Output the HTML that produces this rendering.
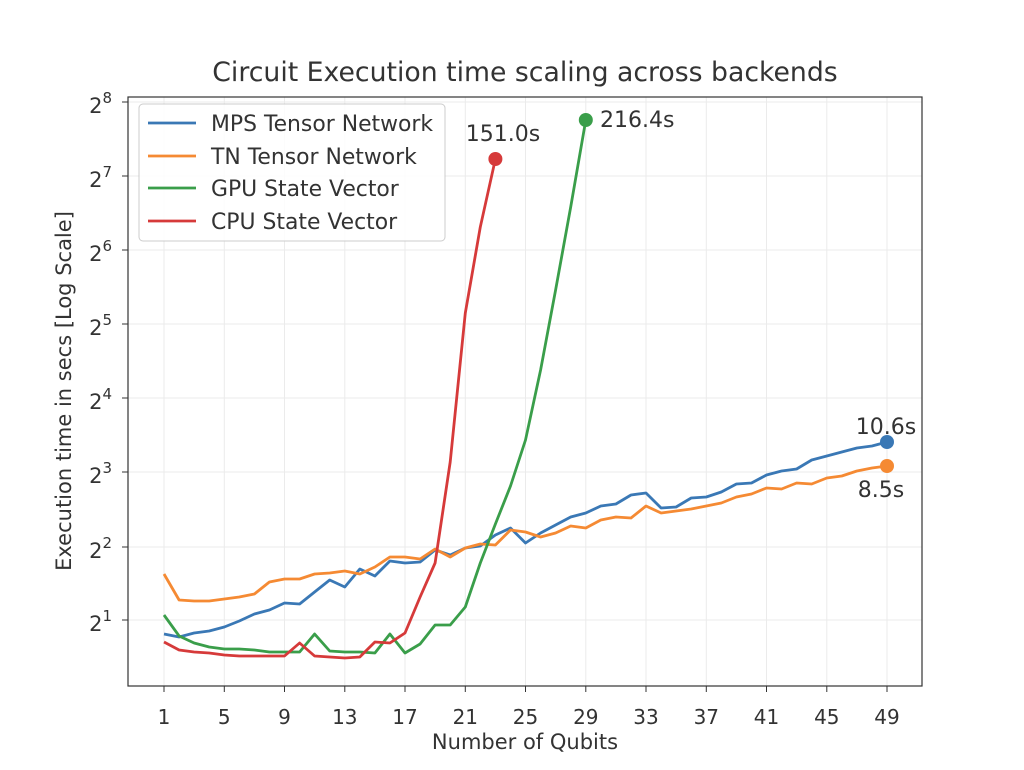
<!DOCTYPE html>
<html><head><meta charset="utf-8"><style>body{margin:0;background:#fff}svg{display:block}text{font-family:"DejaVu Sans","Liberation Sans",sans-serif;fill:#333}</style></head>
<body>
<svg width="1024" height="770" viewBox="0 0 1024 770" xmlns="http://www.w3.org/2000/svg">
<rect width="1024" height="770" fill="#fff"/>
<g stroke="#ebebeb" stroke-width="1">
<line x1="128" x2="922" y1="102" y2="102"/><line x1="128" x2="922" y1="176" y2="176"/><line x1="128" x2="922" y1="250" y2="250"/><line x1="128" x2="922" y1="324" y2="324"/><line x1="128" x2="922" y1="398" y2="398"/><line x1="128" x2="922" y1="472" y2="472"/><line x1="128" x2="922" y1="547" y2="547"/><line x1="128" x2="922" y1="620" y2="620"/>
<line y1="97" y2="686" x1="164" x2="164"/><line y1="97" y2="686" x1="224.3" x2="224.3"/><line y1="97" y2="686" x1="284.5" x2="284.5"/><line y1="97" y2="686" x1="344.8" x2="344.8"/><line y1="97" y2="686" x1="405" x2="405"/><line y1="97" y2="686" x1="465.3" x2="465.3"/><line y1="97" y2="686" x1="525.5" x2="525.5"/><line y1="97" y2="686" x1="585.8" x2="585.8"/><line y1="97" y2="686" x1="646" x2="646"/><line y1="97" y2="686" x1="706.3" x2="706.3"/><line y1="97" y2="686" x1="766.5" x2="766.5"/><line y1="97" y2="686" x1="826.8" x2="826.8"/><line y1="97" y2="686" x1="887" x2="887"/>
</g>
<g fill="none" stroke-width="2.8" stroke-linejoin="round">
<polyline stroke="#3a78b5" points="164,634 179.1,637 194.1,633 209.2,631 224.3,627 239.3,621 254.4,614 269.4,610 284.5,603 299.6,604 314.6,592 329.7,580 344.8,587 359.8,569 374.9,576 389.9,561 405,563 420.1,562 435.1,550 450.2,555 465.3,548 480.3,546 495.4,535 510.5,528 525.5,543 540.6,533 555.6,525 570.7,517 585.8,513 600.8,506 615.9,504 631,495 646,493 661.1,508 676.1,507 691.2,498 706.3,497 721.3,492 736.4,484 751.5,483 766.5,475 781.6,471 796.6,469 811.7,460 826.8,456 841.8,452 856.9,448 872,446 887,442"/>
<polyline stroke="#f58a33" points="164,574 179.1,600 194.1,601 209.2,601 224.3,599 239.3,597 254.4,594 269.4,582 284.5,579 299.6,579 314.6,574 329.7,573 344.8,571 359.8,574 374.9,567 389.9,557 405,557 420.1,559 435.1,549 450.2,557 465.3,548 480.3,544 495.4,545 510.5,530 525.5,532 540.6,537 555.6,533 570.7,526 585.8,528 600.8,520 615.9,517 631,518 646,506 661.1,513 676.1,511 691.2,509 706.3,506 721.3,503 736.4,497 751.5,494 766.5,488 781.6,489 796.6,483 811.7,484 826.8,478 841.8,476 856.9,471 872,468 887,466"/>
<polyline stroke="#3a9e4a" points="164,615 179.1,636 194.1,643 209.2,647 224.3,649 239.3,649 254.4,650 269.4,652 284.5,652 299.6,652 314.6,634 329.7,651 344.8,652 359.8,652 374.9,653 389.9,634 405,653 420.1,644 435.1,625 450.2,625 465.3,607 480.3,563 495.4,524 510.5,486 525.5,440 540.6,370 555.6,290 570.7,207 585.8,120"/>
<polyline stroke="#d63a3a" points="164,642 179.1,650 194.1,652 209.2,653 224.3,655 239.3,656 254.4,656 269.4,656 284.5,656 299.6,643 314.6,656 329.7,657 344.8,658 359.8,657 374.9,642 389.9,643 405,633 420.1,597 435.1,563 450.2,462 465.3,313 480.3,227 495.4,159"/>
</g>
<circle cx="495.4" cy="159" r="7" fill="#d63a3a"/>
<circle cx="585.8" cy="120" r="7" fill="#3a9e4a"/>
<circle cx="887" cy="442" r="7" fill="#3a78b5"/>
<circle cx="887" cy="466" r="7" fill="#f58a33"/>
<g font-size="22">
<text x="503" y="141" text-anchor="middle">151.0s</text>
<text x="600" y="127">216.4s</text>
<text x="886" y="434" text-anchor="middle">10.6s</text>
<text x="881" y="497" text-anchor="middle">8.5s</text>
</g>
<rect x="128" y="97" width="794" height="589" fill="none" stroke="#333" stroke-width="1.2"/>
<rect x="139" y="104" width="306" height="137" rx="4" fill="#fff" fill-opacity="0.85" stroke="#ccc"/>
<g stroke-width="2.8">
<line x1="148" x2="196" y1="123" y2="123" stroke="#3a78b5"/>
<line x1="148" x2="196" y1="156" y2="156" stroke="#f58a33"/>
<line x1="148" x2="196" y1="188" y2="188" stroke="#3a9e4a"/>
<line x1="148" x2="196" y1="221" y2="221" stroke="#d63a3a"/>
</g>
<g font-size="21.9">
<text x="211" y="131">MPS Tensor Network</text>
<text x="211" y="164">TN Tensor Network</text>
<text x="211" y="196">GPU State Vector</text>
<text x="211" y="229">CPU State Vector</text>
</g>
<g stroke="#333" stroke-width="1">
<line x1="122" x2="128" y1="102" y2="102"/><line x1="122" x2="128" y1="176" y2="176"/><line x1="122" x2="128" y1="250" y2="250"/><line x1="122" x2="128" y1="324" y2="324"/><line x1="122" x2="128" y1="398" y2="398"/><line x1="122" x2="128" y1="472" y2="472"/><line x1="122" x2="128" y1="547" y2="547"/><line x1="122" x2="128" y1="620" y2="620"/>
<line y1="686" y2="692" x1="164" x2="164"/><line y1="686" y2="692" x1="224.3" x2="224.3"/><line y1="686" y2="692" x1="284.5" x2="284.5"/><line y1="686" y2="692" x1="344.8" x2="344.8"/><line y1="686" y2="692" x1="405" x2="405"/><line y1="686" y2="692" x1="465.3" x2="465.3"/><line y1="686" y2="692" x1="525.5" x2="525.5"/><line y1="686" y2="692" x1="585.8" x2="585.8"/><line y1="686" y2="692" x1="646" x2="646"/><line y1="686" y2="692" x1="706.3" x2="706.3"/><line y1="686" y2="692" x1="766.5" x2="766.5"/><line y1="686" y2="692" x1="826.8" x2="826.8"/><line y1="686" y2="692" x1="887" x2="887"/>
</g>
<g font-size="21" text-anchor="end">
<text x="112" y="113">2<tspan font-size="15" dy="-10">8</tspan></text>
<text x="112" y="187">2<tspan font-size="15" dy="-10">7</tspan></text>
<text x="112" y="261">2<tspan font-size="15" dy="-10">6</tspan></text>
<text x="112" y="335">2<tspan font-size="15" dy="-10">5</tspan></text>
<text x="112" y="409">2<tspan font-size="15" dy="-10">4</tspan></text>
<text x="112" y="483">2<tspan font-size="15" dy="-10">3</tspan></text>
<text x="112" y="558">2<tspan font-size="15" dy="-10">2</tspan></text>
<text x="112" y="631">2<tspan font-size="15" dy="-10">1</tspan></text>
</g>
<g font-size="20" text-anchor="middle">
<text x="164" y="724">1</text><text x="224.3" y="724">5</text><text x="284.5" y="724">9</text><text x="344.8" y="724">13</text><text x="405" y="724">17</text><text x="465.3" y="724">21</text><text x="525.5" y="724">25</text><text x="585.8" y="724">29</text><text x="646" y="724">33</text><text x="706.3" y="724">37</text><text x="766.5" y="724">41</text><text x="826.8" y="724">45</text><text x="887" y="724">49</text>
</g>
<text x="525" y="749" font-size="21" text-anchor="middle">Number of Qubits</text>
<text transform="translate(71,391) rotate(-90)" font-size="21" text-anchor="middle">Execution time in secs [Log Scale]</text>
<text x="525" y="81" font-size="26.7" text-anchor="middle">Circuit Execution time scaling across backends</text>
</svg>
</body></html>
